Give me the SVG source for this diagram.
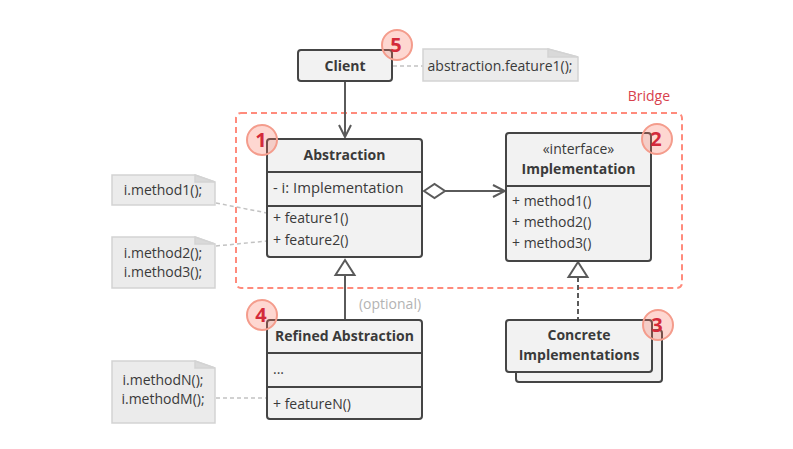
<svg xmlns="http://www.w3.org/2000/svg" width="793" height="449" viewBox="0 0 793 449">
  <style>
    text { font-family: "Open Sans", "Noto Sans", "Liberation Sans", sans-serif; font-size: 14px; fill: #3a3a3a; }
    .b { font-weight: bold; }
    .c { text-anchor: middle; }
    .box { fill: #f2f2f2; stroke: #454545; stroke-width: 2; }
    .div { stroke: #454545; stroke-width: 2; }
    .note { fill: #ebebeb; stroke: #d3d3d3; stroke-width: 1.5; }
    .fold { fill: #d9d9d9; stroke: #d3d3d3; stroke-width: 1.5; }
    .dot { stroke: #c2c2c2; stroke-width: 1.5; stroke-dasharray: 4 3; fill: none; }
    .line { stroke: #5a5a5a; stroke-width: 2; fill: none; }
    .badge circle { fill: rgba(250, 110, 90, 0.28); stroke: #f49c8c; stroke-width: 2; }
    .badge text { font-size: 20px; font-weight: bold; fill: #d42a3a; text-anchor: middle; }
  </style>
  <defs>
    <marker id="open" viewBox="0 0 14 14" refX="13" refY="7" markerWidth="14" markerHeight="14" markerUnits="userSpaceOnUse" orient="auto">
      <path d="M1,1 L13,7 L1,13" fill="none" stroke="#5a5a5a" stroke-width="2"/>
    </marker>
  </defs>

  <rect width="793" height="449" fill="#ffffff"/>

  <!-- Bridge boundary -->
  <g id="bridge">
    <rect x="236" y="113" width="446" height="175" rx="5" fill="none" stroke="#ff8b7c" stroke-width="2" stroke-dasharray="6 4"/>
    <text x="670" y="101" style="fill:#d8414d" text-anchor="end">Bridge</text>
  </g>

  <!-- connectors -->
  <g id="connectors">
    <line class="line" x1="345" y1="82" x2="345" y2="137" marker-end="url(#open)"/>
    <line class="dot" x1="393" y1="66" x2="423" y2="66"/>
    <path d="M424,191 L434.5,184 L445,191 L434.5,198 Z" fill="#fff" stroke="#5a5a5a" stroke-width="2"/>
    <line class="line" x1="445" y1="191" x2="505" y2="191" marker-end="url(#open)"/>
    <line class="line" x1="345" y1="275" x2="345" y2="320"/>
    <path d="M345,260 L354.5,275 L335.5,275 Z" fill="#fff" stroke="#5a5a5a" stroke-width="2"/>
    <line class="line" x1="578" y1="277" x2="578" y2="320" stroke-dasharray="5 3"/>
    <path d="M578,262 L587.5,277 L568.5,277 Z" fill="#fff" stroke="#5a5a5a" stroke-width="2"/>
    <line class="dot" x1="216" y1="203" x2="267" y2="213"/>
    <line class="dot" x1="216" y1="246" x2="267" y2="241"/>
    <line class="dot" x1="216" y1="398" x2="267" y2="398"/>
    <text x="390" y="309" class="c" style="fill:#b3b3b3">(optional)</text>
  </g>

  <!-- Client -->
  <g id="client">
    <rect class="box" x="298" y="50" width="94" height="31" rx="3"/>
    <text x="345" y="71" class="b c">Client</text>
  </g>
  <g id="note-client">
    <path class="note" d="M423,49 H548 L578,57 V81 H423 Z"/>
    <path class="fold" d="M548,49 L578,57 H548 Z"/>
    <text x="500" y="71" class="c">abstraction.feature1();</text>
  </g>

  <!-- Abstraction -->
  <g id="abstraction">
    <rect class="box" x="267" y="139" width="155" height="118" rx="3"/>
    <line class="div" x1="267" y1="172" x2="422" y2="172"/>
    <line class="div" x1="267" y1="206" x2="422" y2="206"/>
    <text x="344.5" y="160" class="b c">Abstraction</text>
    <text x="273" y="193" style="font-size:14.8px">- i: Implementation</text>
    <text x="273" y="223">+ feature1()</text>
    <text x="273" y="245">+ feature2()</text>
  </g>

  <!-- Implementation -->
  <g id="implementation">
    <rect class="box" x="506" y="133" width="145" height="128" rx="3"/>
    <line class="div" x1="506" y1="186" x2="651" y2="186"/>
    <text x="578.5" y="154" class="c">«interface»</text>
    <text x="578.5" y="174" class="b c">Implementation</text>
    <text x="512" y="206">+ method1()</text>
    <text x="512" y="227">+ method2()</text>
    <text x="512" y="248">+ method3()</text>
  </g>

  <!-- Concrete Implementations (stacked) -->
  <g id="concrete">
    <rect class="box" x="516" y="330" width="146" height="52" rx="3"/>
    <rect class="box" x="506" y="320" width="146" height="52" rx="3"/>
    <text x="579" y="340" class="b c">Concrete</text>
    <text x="579" y="360" class="b c">Implementations</text>
  </g>

  <!-- Refined Abstraction -->
  <g id="refined">
    <rect class="box" x="267" y="320" width="155" height="99" rx="3"/>
    <line class="div" x1="267" y1="353" x2="422" y2="353"/>
    <line class="div" x1="267" y1="387" x2="422" y2="387"/>
    <text x="344.5" y="341" class="b c">Refined Abstraction</text>
    <text x="273" y="374">...</text>
    <text x="273" y="409">+ featureN()</text>
  </g>

  <!-- Notes -->
  <g id="note-1">
    <path class="note" d="M112,175 H195 L215,182 V205 H112 Z"/>
    <path class="fold" d="M195,175 L215,182 H195 Z"/>
    <text x="163" y="195" class="c">i.method1();</text>
  </g>
  <g id="note-2">
    <path class="note" d="M112,237 H195 L215,244 V288 H112 Z"/>
    <path class="fold" d="M195,237 L215,244 H195 Z"/>
    <text x="163" y="258" class="c">i.method2();</text>
    <text x="163" y="277" class="c">i.method3();</text>
  </g>
  <g id="note-3">
    <path class="note" d="M112,361 H195 L215,368 V423 H112 Z"/>
    <path class="fold" d="M195,361 L215,368 H195 Z"/>
    <text x="163" y="385" class="c">i.methodN();</text>
    <text x="163" y="404" class="c">i.methodM();</text>
  </g>

  <!-- numbered badges -->
  <g id="badge-1" class="badge"><circle cx="262" cy="140" r="15"/><text x="261" y="147">1</text></g>
  <g id="badge-2" class="badge"><circle cx="657" cy="139" r="15"/><text x="656" y="146">2</text></g>
  <g id="badge-3" class="badge"><circle cx="658" cy="325" r="15"/><text x="657" y="332">3</text></g>
  <g id="badge-4" class="badge"><circle cx="262" cy="315" r="15"/><text x="261" y="322">4</text></g>
  <g id="badge-5" class="badge"><circle cx="397" cy="45" r="15"/><text x="396" y="52">5</text></g>
</svg>
